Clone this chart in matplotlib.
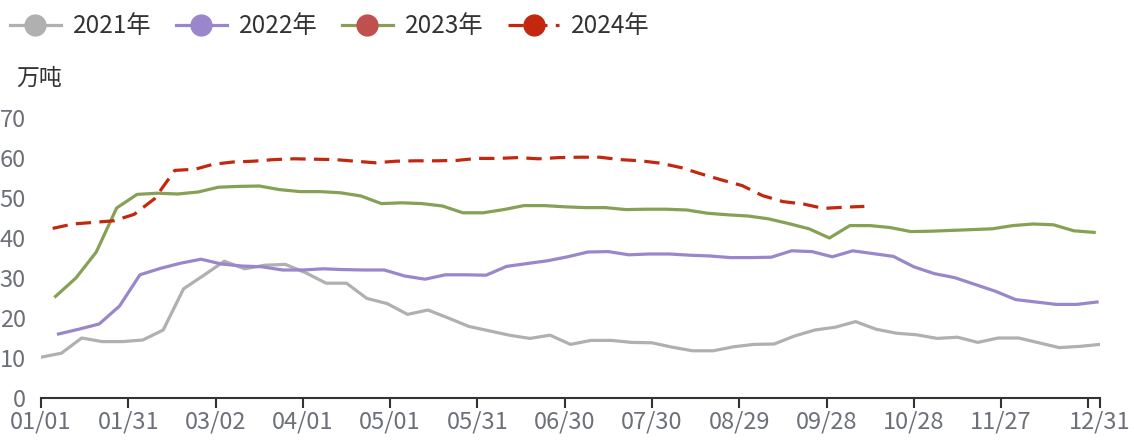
import matplotlib
matplotlib.use("Agg")
import matplotlib.pyplot as plt
from matplotlib.lines import Line2D
import pandas as pd
import numpy as np

plt.rcParams['font.family'] = ['Noto Sans CJK SC', 'DejaVu Sans']

# ---- data ----
series_names = ["2021年", "2022年", "2023年", "2024年"]
start_dates = ["2021-01-01", "2022-01-07", "2023-01-06", "2024-01-05"]

v2021 = [10.2, 11.2, 15.0, 14.1, 14.1, 14.5, 17.0, 27.3, 30.7, 34.2, 32.3, 33.2, 33.4,
         31.3, 28.7, 28.7, 24.9, 23.6, 20.9, 22.0, 20.0, 17.9, 16.8, 15.7, 14.9, 15.7,
         13.4, 14.4, 14.4, 13.9, 13.8, 12.7, 11.8, 11.8, 12.8, 13.4, 13.5, 15.5, 17.0,
         17.7, 19.1, 17.2, 16.2, 15.8, 14.9, 15.2, 13.9, 15.0, 15.0, 13.8, 12.6, 12.9, 13.4]
v2022 = [16.0, 17.2, 18.5, 23.0, 30.8, 32.4, 33.7, 34.7, 33.5, 33.0, 32.8, 32.0, 32.0,
         32.3, 32.1, 32.0, 32.0, 30.5, 29.7, 30.8, 30.8, 30.7, 32.9, 33.6, 34.3, 35.3,
         36.5, 36.6, 35.8, 36.0, 36.0, 35.7, 35.5, 35.1, 35.1, 35.2, 36.8, 36.6, 35.3,
         36.8, 36.1, 35.4, 32.8, 31.1, 30.1, 28.4, 26.7, 24.6, 24.0, 23.4, 23.4, 24.0]
v2023 = [25.4, 30.0, 36.5, 47.5, 50.9, 51.2, 51.0, 51.5, 52.7, 52.9, 53.0, 52.1, 51.6,
         51.6, 51.3, 50.5, 48.6, 48.8, 48.6, 48.0, 46.3, 46.3, 47.1, 48.1, 48.1, 47.8,
         47.6, 47.6, 47.1, 47.2, 47.2, 47.0, 46.2, 45.8, 45.5, 44.8, 43.6, 42.3, 40.0,
         43.1, 43.1, 42.6, 41.6, 41.7, 41.9, 42.1, 42.3, 43.1, 43.5, 43.3, 41.8, 41.4]
v2024 = [42.4, 43.5, 43.9, 44.3, 45.9, 49.8, 56.9, 57.2, 58.4, 59.0, 59.2, 59.6, 59.8,
         59.7, 59.6, 59.2, 58.8, 59.2, 59.3, 59.3, 59.4, 59.9, 59.9, 60.1, 59.8, 60.1,
         60.2, 60.2, 59.6, 59.3, 58.7, 57.6, 56.0, 54.5, 53.1, 50.6, 49.1, 48.5, 47.4,
         47.7, 47.9]
values = [v2021, v2022, v2023, v2024]

tick_labels = ["01/01", "01/31", "03/02", "04/01", "05/01", "05/31", "06/30",
               "07/30", "08/29", "09/28", "10/28", "11/27", "", "12/31"]
yticks = [0, 10, 20, 30, 40, 50, 60, 70]

colors = ["#b0b0b0", "#9a86cb", "#86a055", "#c3280f"]
legend_marker_colors = ["#b0b0b0", "#9a86cb", "#c0504d", "#c3280f"]

base = pd.Timestamp("2021-01-01")

def to_days(start, n):
    d = pd.date_range(start, periods=n, freq="7D")
    return np.array([(pd.Timestamp(2021, x.month, x.day) - base).days for x in d])

fig = plt.figure(figsize=(11.34, 4.41), dpi=100)
ax = fig.add_axes([41/1134, 1 - 398/441, (1100 - 41)/1134, (398 - 118)/441])

lw = 2.3
for i, (name, st, v) in enumerate(zip(series_names, start_dates, values)):
    x = to_days(st, len(v))
    if i == 3:
        ax.plot(x, v, color=colors[i], lw=lw, dashes=(4.8, 2.6), solid_joinstyle='round')
    else:
        ax.plot(x, v, color=colors[i], lw=lw, solid_joinstyle='round')

ax.set_xlim(0, 364)
ax.set_ylim(0, 70)
xt = list(range(0, 361, 30)) + [364]
ax.set_xticks(xt)
ax.set_xticklabels(tick_labels)
ax.set_yticks(yticks)
ax.set_yticklabels([str(t) for t in yticks])

for s in ["top", "right", "left"]:
    ax.spines[s].set_visible(False)
ax.spines["bottom"].set_color("#333333")
ax.spines["bottom"].set_linewidth(1.5)
ax.tick_params(axis="x", direction="out", length=7, width=1.5, color="#333333",
               labelsize=17, labelcolor="#6e7079", pad=2)
ax.tick_params(axis="y", length=0, labelsize=17, labelcolor="#6e7079", pad=11)

fig.text(16/1134, 1 - 78/441, "万吨", fontsize=16.5, color="#333333", va="center", ha="left")

# legend
handles = []
for i in range(4):
    ls = (0, (4.8, 2.6)) if i == 3 else "-"
    handles.append(Line2D([0], [0], color=colors[i], lw=lw, linestyle=ls,
                          marker="o", markersize=15, markerfacecolor=legend_marker_colors[i],
                          markeredgecolor=legend_marker_colors[i]))
leg = fig.legend(handles, series_names, loc="upper left", bbox_to_anchor=(0.002, 1 - 6/441),
                 ncol=4, frameon=False, fontsize=17.5, handlelength=2.1,
                 handletextpad=0.5, columnspacing=1.0, borderaxespad=0.2,
                 borderpad=0.1)
for t in leg.get_texts():
    t.set_color("#333333")

fig.savefig("out.png", dpi=100)
